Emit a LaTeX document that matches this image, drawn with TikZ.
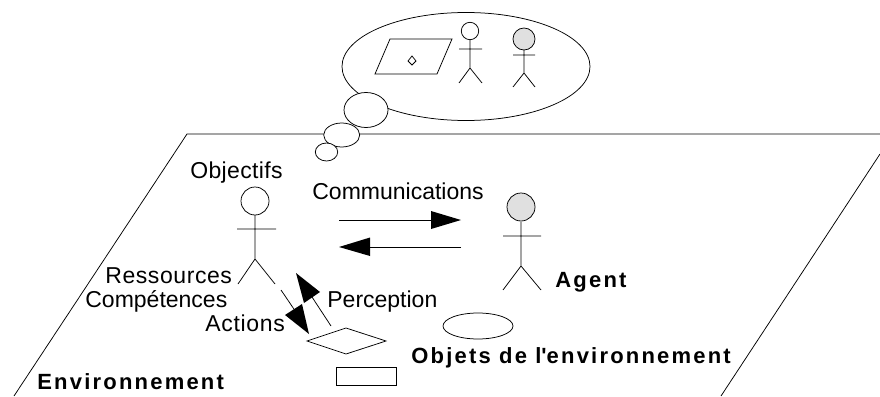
\documentclass[tikz,border=0pt]{standalone}
\usepackage{fontspec}
\setmainfont{Liberation Sans}
\newcommand{\spaced}[1]{\addfontfeature{LetterSpace=#1}}
\begin{document}
\begin{tikzpicture}[x=1pt,y=-1pt,line width=0.75pt,
  lab/.style={inner sep=0pt,font=\fontsize{23}{24}\selectfont,anchor=base west},
  blab/.style={inner sep=0pt,font=\fontsize{22}{24}\bfseries\selectfont\spaced{10},anchor=base west},
  fat/.style={fill=black,draw=none},
  gr/.style={fill=black!12}]
\useasboundingbox (0,0) rectangle (880,396);
\coordinate (pa) at (14,396); \coordinate (pb) at (187,134);
\coordinate (pc) at (880,134); \coordinate (pd) at (880,154); \coordinate (pe) at (721,396);
\draw (pa) -- (pb) -- (pc);
\draw (pd) -- (pe);
% thought bubble
\draw[fill=white] (466,66.5) ellipse (124 and 54);
\draw[fill=white] (366,110) ellipse (22 and 17.5);
\draw[fill=white] (341.7,135) ellipse (18 and 12);
\draw[fill=white] (326.5,152) ellipse (11.2 and 9);
% small scene
\draw (390,39) -- (452,39) -- (437,74) -- (375,74) -- cycle;
\draw (412,56) -- (416,61) -- (412,65) -- (408,61) -- cycle;
\draw (470,31) circle (8.7);
\draw (470,40) -- (470,68) (459,49) -- (482,49) (459,83) -- (470,68) -- (482,83);
\draw[gr] (524,39) circle (11);
\draw (524,50) -- (524,73) (513,55) -- (535,55) (513,87) -- (524,73) -- (535,87);
% agents
\draw (255,201) circle (14);
\draw (255,215) -- (255,259) (237,229) -- (276,229) (238,284) -- (255,259) -- (275,284);
\draw[gr] (521,207) circle (14);
\draw (521,222) -- (521,266) (503,236) -- (541,236) (503,290) -- (521,266) -- (541,290);
% arrows
\coordinate (c1a) at (339,220); \coordinate (c1b) at (431,220);
\draw (c1a) -- (c1b);
\fill[fat] (461,220) -- (431,211) -- (431,229) -- cycle;
\coordinate (c2a) at (461,247); \coordinate (c2b) at (369,247);
\draw (c2a) -- (c2b);
\fill[fat] (339,247) -- (370,237.5) -- (370,256) -- cycle;
\draw (281,290) -- (300,318);
\fill[fat] (309,334) -- (285,315) -- (302,304) -- cycle;
\draw (331,326) -- (312,297);
\fill[fat] (296,273) -- (320,292) -- (304,303) -- cycle;
% objects
\draw (307,341) -- (346,328) -- (386,341) -- (346,354) -- cycle;
\draw (336,367.5) rectangle (396,385.5);
\draw (478,326) ellipse (35 and 13);
% labels
\node[lab] (t1) at (190,178) {\spaced{1.5}Objectifs};
\node[lab] (t2) at (312,199) {Communications};
\node[lab] (t3) at (105,283) {\spaced{2.5}Ressources};
\node[lab] (t4) at (85,307) {Compétences};
\node[lab] (t5) at (205,331) {\spaced{3}Actions};
\node[lab] (t6) at (327,307) {Perception};
\node[blab] (t7) at (555,287) {Agent};
\node[blab] (t8) at (411,363) {Objets de l\textquotesingle environnement};
\node[blab] (t9) at (37,389) {Environnement};
\end{tikzpicture}
\end{document}
